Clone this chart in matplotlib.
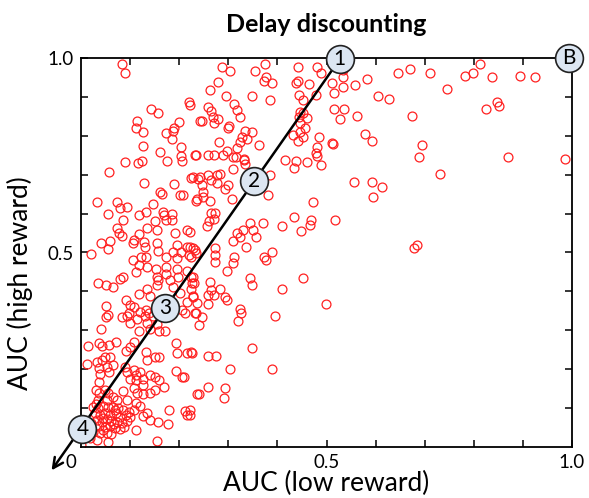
import numpy as np
import matplotlib.pyplot as plt
from matplotlib.transforms import ScaledTranslation

plt.rcParams['font.family'] = ['Lato', 'DejaVu Sans']

# AUC (low reward), AUC (high reward) pairs
upper_left = [
    (0.083, 0.985), (0.090, 0.961), (0.220, 0.887), (0.223, 0.880), (0.143, 0.868),
    (0.157, 0.859), (0.115, 0.839), (0.112, 0.820), (0.127, 0.810), (0.199, 0.836),
    (0.189, 0.820), (0.188, 0.813), (0.173, 0.806), (0.185, 0.792), (0.242, 0.838),
    (0.127, 0.774), (0.204, 0.772), (0.161, 0.759), (0.203, 0.747), (0.206, 0.736),
    (0.233, 0.751), (0.175, 0.736), (0.090, 0.733), (0.117, 0.729), (0.124, 0.736),
    (0.058, 0.707), (0.225, 0.691), (0.238, 0.689),
]
mid_left = [
    (0.129, 0.679), (0.189, 0.676), (0.161, 0.656), (0.165, 0.650), (0.202, 0.648),
    (0.208, 0.648), (0.234, 0.633), (0.033, 0.631), (0.074, 0.630), (0.079, 0.614),
    (0.093, 0.616), (0.147, 0.625), (0.056, 0.599), (0.119, 0.596), (0.132, 0.603),
    (0.166, 0.603), (0.169, 0.597), (0.185, 0.599), (0.173, 0.584), (0.185, 0.584),
    (0.086, 0.584), (0.151, 0.582), (0.074, 0.562), (0.078, 0.549), (0.083, 0.542),
    (0.134, 0.562), (0.154, 0.558), (0.191, 0.549), (0.215, 0.558), (0.119, 0.548),
    (0.107, 0.532), (0.105, 0.525), (0.041, 0.525), (0.059, 0.530), (0.056, 0.510),
    (0.128, 0.528), (0.130, 0.513), (0.154, 0.525), (0.188, 0.502), (0.195, 0.519),
    (0.203, 0.502), (0.215, 0.515), (0.219, 0.494), (0.229, 0.511), (0.234, 0.498),
    (0.157, 0.504), (0.020, 0.496), (0.105, 0.482), (0.122, 0.488), (0.132, 0.489),
    (0.174, 0.488), (0.196, 0.485), (0.119, 0.468), (0.134, 0.464), (0.174, 0.462),
    (0.152, 0.457), (0.154, 0.436), (0.195, 0.457), (0.198, 0.436), (0.113, 0.451),
    (0.215, 0.453), (0.225, 0.438), (0.230, 0.422), (0.174, 0.445), (0.085, 0.438),
    (0.079, 0.431), (0.034, 0.421), (0.051, 0.416), (0.065, 0.412), (0.157, 0.429),
    (0.155, 0.416), (0.181, 0.429), (0.188, 0.412), (0.134, 0.405), (0.119, 0.393),
    (0.141, 0.388), (0.092, 0.378), (0.100, 0.365), (0.107, 0.359), (0.051, 0.362),
    (0.202, 0.395), (0.229, 0.386), (0.225, 0.405),
]
low_left = [
    (0.055, 0.339), (0.050, 0.333), (0.083, 0.335), (0.094, 0.337), (0.100, 0.320),
    (0.098, 0.344), (0.115, 0.328), (0.120, 0.348), (0.130, 0.337), (0.135, 0.320),
    (0.139, 0.344), (0.146, 0.337), (0.132, 0.352), (0.041, 0.303), (0.119, 0.299),
    (0.141, 0.303), (0.155, 0.316), (0.159, 0.297), (0.171, 0.299), (0.205, 0.352),
    (0.215, 0.374), (0.212, 0.344), (0.234, 0.345), (0.237, 0.369), (0.107, 0.271),
    (0.100, 0.258), (0.092, 0.248), (0.015, 0.260), (0.037, 0.267), (0.042, 0.260),
    (0.058, 0.262), (0.071, 0.271), (0.132, 0.245), (0.135, 0.224), (0.151, 0.231),
    (0.159, 0.231), (0.193, 0.267), (0.196, 0.242), (0.215, 0.242), (0.225, 0.245),
    (0.012, 0.213), (0.032, 0.219), (0.042, 0.224), (0.049, 0.231), (0.059, 0.232),
    (0.037, 0.202), (0.052, 0.206), (0.065, 0.211), (0.058, 0.194), (0.039, 0.188),
    (0.037, 0.168), (0.090, 0.206), (0.094, 0.194), (0.107, 0.198), (0.113, 0.185),
    (0.120, 0.194), (0.100, 0.174), (0.113, 0.172), (0.127, 0.174), (0.141, 0.185),
    (0.151, 0.179), (0.159, 0.172), (0.169, 0.155), (0.193, 0.196), (0.205, 0.181),
    (0.210, 0.179), (0.237, 0.136), (0.031, 0.147), (0.037, 0.138), (0.049, 0.147),
    (0.056, 0.138), (0.035, 0.121), (0.052, 0.121), (0.065, 0.129), (0.074, 0.121),
    (0.094, 0.121), (0.085, 0.145), (0.107, 0.151), (0.115, 0.140), (0.127, 0.159),
    (0.127, 0.136), (0.141, 0.138), (0.151, 0.147),
]
origin_cluster = [
    (0.025, 0.104), (0.035, 0.099), (0.045, 0.105), (0.056, 0.102), (0.065, 0.104),
    (0.076, 0.099), (0.086, 0.095), (0.029, 0.087), (0.039, 0.082), (0.049, 0.088),
    (0.059, 0.082), (0.071, 0.087), (0.079, 0.078), (0.092, 0.082), (0.032, 0.069),
    (0.042, 0.065), (0.052, 0.071), (0.062, 0.068), (0.073, 0.065), (0.083, 0.061),
    (0.094, 0.068), (0.037, 0.054), (0.049, 0.051), (0.059, 0.054), (0.069, 0.048),
    (0.079, 0.046), (0.025, 0.039), (0.039, 0.035), (0.052, 0.037), (0.062, 0.033),
    (0.018, 0.022), (0.032, 0.018), (0.000, 0.005), (0.056, 0.014), (0.112, 0.044),
    (0.100, 0.078), (0.108, 0.095), (0.120, 0.105), (0.126, 0.080), (0.134, 0.088),
    (0.112, 0.114), (0.141, 0.069), (0.157, 0.065), (0.180, 0.095), (0.178, 0.059),
    (0.212, 0.093), (0.215, 0.082), (0.223, 0.095), (0.154, 0.016), (0.045, 0.075),
    (0.067, 0.058), (0.088, 0.052), (0.030, 0.110), (0.070, 0.094), (0.097, 0.090),
    (0.044, 0.044), (0.020, 0.062),
]
upper_mid = [
    (0.287, 0.976), (0.303, 0.967), (0.354, 0.967), (0.375, 0.985), (0.377, 0.952),
    (0.373, 0.942), (0.390, 0.937), (0.280, 0.938), (0.263, 0.918), (0.295, 0.902),
    (0.348, 0.902), (0.384, 0.891), (0.441, 0.978), (0.481, 0.978), (0.488, 0.961),
    (0.441, 0.942), (0.438, 0.935), (0.465, 0.933), (0.512, 0.937), (0.534, 0.968),
    (0.534, 0.950), (0.534, 0.926), (0.515, 0.911), (0.443, 0.905), (0.453, 0.892),
    (0.479, 0.905), (0.312, 0.882), (0.317, 0.866), (0.324, 0.848), (0.259, 0.873),
    (0.264, 0.865), (0.269, 0.849), (0.280, 0.843), (0.271, 0.834), (0.246, 0.839),
    (0.302, 0.825), (0.300, 0.819), (0.282, 0.785), (0.234, 0.751), (0.259, 0.751),
    (0.271, 0.751), (0.289, 0.751), (0.298, 0.762), (0.310, 0.746), (0.334, 0.813),
    (0.348, 0.811), (0.327, 0.798), (0.324, 0.785), (0.339, 0.791), (0.318, 0.768),
    (0.316, 0.746), (0.331, 0.740), (0.363, 0.776), (0.309, 0.714), (0.276, 0.699),
    (0.284, 0.702), (0.259, 0.699), (0.242, 0.693), (0.332, 0.738), (0.334, 0.728),
    (0.385, 0.699), (0.443, 0.849), (0.446, 0.862), (0.453, 0.858), (0.446, 0.832),
    (0.456, 0.819), (0.447, 0.811), (0.432, 0.802), (0.453, 0.798), (0.441, 0.787),
    (0.461, 0.847), (0.485, 0.796), (0.480, 0.770), (0.479, 0.755), (0.480, 0.748),
    (0.511, 0.781), (0.514, 0.779), (0.415, 0.738), (0.438, 0.736), (0.461, 0.733),
    (0.434, 0.716), (0.488, 0.725), (0.515, 0.868), (0.536, 0.870), (0.527, 0.842),
]
centre = [
    (0.229, 0.693), (0.264, 0.686), (0.276, 0.678), (0.300, 0.674), (0.293, 0.662),
    (0.246, 0.674), (0.249, 0.656), (0.237, 0.637), (0.249, 0.643), (0.263, 0.633),
    (0.307, 0.637), (0.381, 0.648), (0.473, 0.631), (0.264, 0.602), (0.273, 0.601),
    (0.261, 0.582), (0.271, 0.585), (0.256, 0.568), (0.344, 0.577), (0.370, 0.577),
    (0.409, 0.568), (0.434, 0.590), (0.468, 0.584), (0.466, 0.571), (0.449, 0.554),
    (0.517, 0.584), (0.317, 0.551), (0.329, 0.558), (0.351, 0.558), (0.324, 0.541),
    (0.309, 0.530), (0.356, 0.539), (0.337, 0.513), (0.222, 0.553), (0.222, 0.515),
    (0.232, 0.506), (0.225, 0.488), (0.273, 0.511), (0.273, 0.494), (0.273, 0.476),
    (0.312, 0.488), (0.309, 0.472), (0.297, 0.453), (0.388, 0.500), (0.373, 0.488),
    (0.377, 0.481), (0.344, 0.434), (0.348, 0.416), (0.409, 0.405), (0.453, 0.434),
    (0.229, 0.438), (0.227, 0.422), (0.263, 0.425), (0.264, 0.404), (0.259, 0.391),
    (0.271, 0.391), (0.284, 0.405), (0.293, 0.386), (0.297, 0.379), (0.259, 0.368),
    (0.229, 0.388), (0.324, 0.354), (0.499, 0.368), (0.232, 0.345), (0.246, 0.335),
    (0.241, 0.314), (0.325, 0.345), (0.319, 0.325), (0.395, 0.337), (0.227, 0.241),
    (0.259, 0.234), (0.275, 0.234), (0.348, 0.255), (0.303, 0.200), (0.388, 0.200),
    (0.259, 0.155), (0.241, 0.135), (0.293, 0.151), (0.291, 0.127), (0.222, 0.082),
]
right_side = [
    (0.558, 0.931), (0.583, 0.946), (0.646, 0.962), (0.671, 0.971), (0.711, 0.962),
    (0.782, 0.954), (0.798, 0.962), (0.813, 0.985), (0.838, 0.952), (0.895, 0.954),
    (0.925, 0.950), (0.604, 0.903), (0.627, 0.894), (0.746, 0.920), (0.563, 0.851),
    (0.675, 0.851), (0.824, 0.870), (0.847, 0.888), (0.852, 0.877), (0.578, 0.804),
    (0.593, 0.787), (0.694, 0.776), (0.689, 0.745), (0.870, 0.745), (0.986, 0.740),
    (0.731, 0.702), (0.556, 0.680), (0.592, 0.680), (0.614, 0.669), (0.594, 0.642),
    (0.678, 0.511), (0.684, 0.519),
]

# line from point 1 down to the arrow past the origin
line_start = (0.527, 0.997)
line_end = (-0.06, -0.06)
marker_labels = ['1', '2', '3', '4', 'B']
marker_x = [0.527, 0.353, 0.171, 0.003, 0.994]
marker_y = [0.997, 0.684, 0.358, 0.045, 1.0]

pts = np.array(upper_left + mid_left + low_left + origin_cluster + upper_mid + centre + right_side)

fig = plt.figure(figsize=(5.89, 4.98), dpi=100)
ax = fig.add_axes([81/589, 1 - 447/498, 491/589, 389/498])

ax.plot(pts[:, 0], pts[:, 1], 'o', ms=6.4, mfc='none', mec='#ff2020', mew=0.9, zorder=2)

ax.annotate('', xy=line_end, xytext=line_start, annotation_clip=False,
            arrowprops=dict(arrowstyle='->', lw=1.8, color='black',
                            mutation_scale=18, shrinkA=0, shrinkB=0), zorder=3)

ax.plot(marker_x, marker_y, 'o', ms=20, mfc='#dce6f2', mec='#222222', mew=1.2,
        clip_on=False, zorder=4)
for lab, mx, my in zip(marker_labels, marker_x, marker_y):
    ax.text(mx, my, lab, ha='center', va='center', fontsize=15, zorder=5, clip_on=False)

ax.set_xlim(0, 1)
ax.set_ylim(0, 1)
ax.set_xticks([0, 0.5, 1.0])
ax.set_xticklabels(['0', '0.5', '1.0'])
ax.set_yticks([0.5, 1.0])
ax.set_yticklabels(['0.5', '1.0'])
ax.set_xticks(np.arange(0.1, 1.0, 0.1), minor=True)
ax.set_yticks(np.arange(0.1, 1.0, 0.1), minor=True)
ax.tick_params(which='both', direction='in', top=True, right=True, length=5, width=1.1,
               labelsize=13.5, pad=5)
# the "0" label sits to the left of the corner
lbl0 = ax.get_xticklabels()[0]
lbl0.set_transform(lbl0.get_transform() + ScaledTranslation(-0.10, 0, fig.dpi_scale_trans))
ax.get_xaxis().get_major_ticks()[0].tick1line.set_visible(False)
ax.get_xaxis().get_major_ticks()[0].tick2line.set_visible(False)
for s in ax.spines.values():
    s.set_linewidth(1.3)

ax.set_xlabel('AUC (low reward)', fontsize=19, labelpad=0)
ax.set_ylabel('AUC (high reward)', fontsize=19)
ax.yaxis.set_label_coords(-0.098, 0.42)
ax.set_title('Delay discounting', fontsize=18, fontweight='bold', pad=19)

plt.savefig('out.png', dpi=100)
